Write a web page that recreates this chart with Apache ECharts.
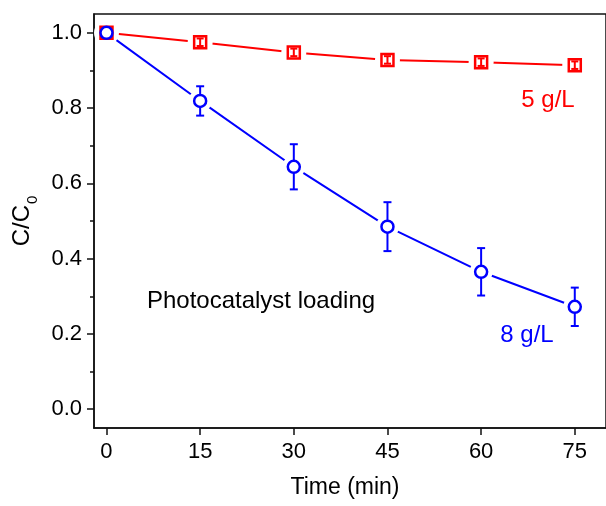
<!DOCTYPE html>
<html>
<head>
<meta charset="utf-8">
<script src="https://cdn.jsdelivr.net/npm/echarts@6/dist/echarts.min.js"></script>
<style>html,body{margin:0;padding:0;background:#fff}#c{width:606px;height:506px}</style>
</head>
<body>
<div id="c"></div>
<script>
const times = [0, 15, 30, 45, 60, 75];
const load8 = [1.0, 0.819, 0.644, 0.485, 0.365, 0.272];
const err8 = [0.0, 0.039, 0.06, 0.065, 0.063, 0.051];
const load5 = [1.0, 0.975, 0.948, 0.928, 0.922, 0.914];
const err5 = [0.01, 0.01, 0.01, 0.01, 0.01, 0.01];
const xTicks = [0, 15, 30, 45, 60, 75];
const yTicks = [0, 0.2, 0.4, 0.6, 0.8, 1.0];
const yMinor = [0.1, 0.3, 0.5, 0.7, 0.9];

const FONT = 'Liberation Sans, Arial, sans-serif';
const RED = '#ff0000', BLUE = '#0000ff';
const pts = (ys, es) => times.map((t, i) => es ? [t, ys[i], es[i]] : [t, ys[i]]);

function errBar(color, cap) {
  return function (params, api) {
    const x = api.value(0), y = api.value(1), e = api.value(2);
    if (!e) return null;
    const top = api.coord([x, y + e]);
    const bot = api.coord([x, y - e]);
    const st = { stroke: color, lineWidth: 2 };
    return {
      type: 'group', children: [
        { type: 'line', shape: { x1: top[0], y1: top[1], x2: bot[0], y2: bot[1] }, style: st },
        { type: 'line', shape: { x1: top[0] - cap, y1: top[1], x2: top[0] + cap, y2: top[1] }, style: st },
        { type: 'line', shape: { x1: bot[0] - cap, y1: bot[1], x2: bot[0] + cap, y2: bot[1] }, style: st }
      ]
    };
  };
}

const chart = echarts.init(document.getElementById('c'), null, { renderer: 'canvas' });
chart.setOption({
  animation: false,
  backgroundColor: '#fff',
  textStyle: { fontFamily: FONT },
  grid: { left: 94, top: 14, right: -3, bottom: 78, show: true, borderColor: '#111', borderWidth: 1.5, backgroundColor: 'transparent' },
  xAxis: {
    type: 'value', min: -2, max: 80,
    name: 'Time (min)', nameLocation: 'middle', nameGap: 48,
    nameTextStyle: { fontSize: 23, color: '#000', fontFamily: FONT, padding: [0, 10, 0, 0] },
    axisLine: { show: true, onZero: false, lineStyle: { color: '#111', width: 1.5 } },
    axisTick: { show: true, length: 7, lineStyle: { color: '#111', width: 1.5 }, customValues: xTicks },
    axisLabel: { fontSize: 22, color: '#000', margin: 13, customValues: xTicks, fontFamily: FONT },
    splitLine: { show: false }
  },
  yAxis: [{
    type: 'value', min: -0.05, max: 1.05,
    name: '{a|C/C}{s|0}', nameLocation: 'middle', nameGap: 57, nameRotate: 90,
    nameTextStyle: {
      color: '#000', fontFamily: FONT,
      rich: {
        a: { fontSize: 24, color: '#000', fontFamily: FONT, lineHeight: 30 },
        s: { fontSize: 15, color: '#000', fontFamily: FONT, lineHeight: 30, verticalAlign: 'bottom', padding: [0, 0, -3, 1] }
      }
    },
    axisLine: { show: true, onZero: false, lineStyle: { color: '#111', width: 1.5 } },
    axisTick: { show: true, length: 7, lineStyle: { color: '#111', width: 1.5 }, customValues: yTicks },
    axisLabel: { fontSize: 22, color: '#000', margin: 12, customValues: yTicks, fontFamily: FONT, formatter: v => v.toFixed(1) },
    splitLine: { show: false }
  }, {
    type: 'value', min: -0.05, max: 1.05, position: 'left',
    axisLine: { show: false, onZero: false },
    axisTick: { show: true, length: 4, lineStyle: { color: '#111', width: 1.5 }, customValues: yMinor },
    axisLabel: { show: false, customValues: yMinor },
    splitLine: { show: false }
  }],
  series: [
    { type: 'line', data: pts(load5), showSymbol: false, symbol: 'none', lineStyle: { color: RED, width: 2 }, z: 1 },
    { type: 'line', data: pts(load8), showSymbol: false, symbol: 'none', lineStyle: { color: BLUE, width: 2 }, z: 1 },
    { type: 'scatter', data: pts(load5), symbol: 'circle', symbolSize: 25, itemStyle: { color: '#fff', opacity: 1 }, z: 2, silent: true },
    { type: 'scatter', data: pts(load8), symbol: 'circle', symbolSize: 23, itemStyle: { color: '#fff', opacity: 1 }, z: 2, silent: true },
    { type: 'scatter', data: pts(load5), symbol: 'rect', symbolSize: 12, itemStyle: { color: '#fff', borderColor: RED, borderWidth: 2.5, opacity: 1 }, z: 3 },
    { type: 'custom', data: pts(load5, err5), renderItem: errBar(RED, 3.5), z: 4 },
    { type: 'custom', data: pts(load8, err8), renderItem: errBar(BLUE, 4), z: 4 },
    { type: 'scatter', data: pts(load8), symbol: 'circle', symbolSize: 12, itemStyle: { color: '#fff', borderColor: BLUE, borderWidth: 2.5, opacity: 1 }, z: 5 }
  ],
  graphic: [
    { type: 'text', x: 548, y: 100.5, style: { text: '5 g/L', fill: RED, font: '24px ' + FONT, textAlign: 'center', textVerticalAlign: 'middle' }, z: 10 },
    { type: 'text', x: 527, y: 335.5, style: { text: '8 g/L', fill: BLUE, font: '24px ' + FONT, textAlign: 'center', textVerticalAlign: 'middle' }, z: 10 },
    { type: 'text', x: 261, y: 301.5, style: { text: 'Photocatalyst loading', fill: '#000', font: '24px ' + FONT, textAlign: 'center', textVerticalAlign: 'middle' }, z: 10 }
  ]
});
</script>
</body>
</html>
